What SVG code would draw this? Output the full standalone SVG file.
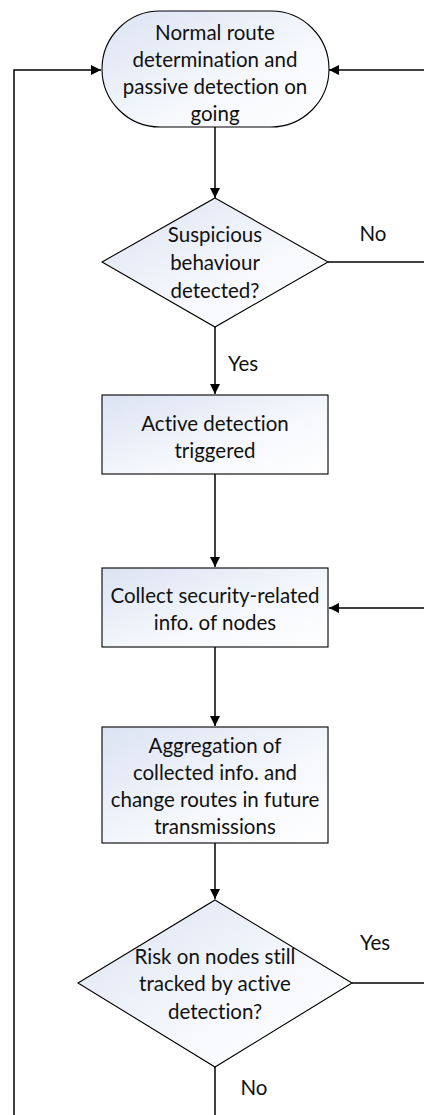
<svg xmlns="http://www.w3.org/2000/svg" width="424" height="1115" viewBox="0 0 424 1115">
  <style>
    .shape { stroke: #000; stroke-width: 1.1; fill: url(#fillGrad); }
    .edge { fill: none; stroke: #000; stroke-width: 1.5; }
    .label { font-family: Lato, "Liberation Sans", sans-serif; font-size: 20.5px; fill: #111; text-anchor: middle; dominant-baseline: central; font-variant-ligatures: none; }
  </style>
  <defs>
    <linearGradient id="fillGrad" x1="0" y1="0" x2="1" y2="1">
      <stop offset="0" stop-color="#dbe3f3"/>
      <stop offset="0.6" stop-color="#f6f8fc"/>
      <stop offset="1" stop-color="#ffffff"/>
    </linearGradient>
    <marker id="arrow" viewBox="0 0 10 10" refX="10" refY="5" markerWidth="10" markerHeight="10" markerUnits="userSpaceOnUse" orient="auto">
      <path d="M0,0 L10,5 L0,10 Z" fill="#000"/>
    </marker>
  </defs>

  <!-- connectors -->
  <g id="connectors">
    <line class="edge" x1="215" y1="127" x2="215" y2="198" marker-end="url(#arrow)"/>
    <line class="edge" x1="215" y1="326" x2="215" y2="394" marker-end="url(#arrow)"/>
    <line class="edge" x1="328" y1="262" x2="424" y2="262"/>
    <line class="edge" x1="424" y1="70" x2="329" y2="70" marker-end="url(#arrow)"/>
    <line class="edge" x1="215" y1="474" x2="215" y2="567" marker-end="url(#arrow)"/>
    <line class="edge" x1="424" y1="608" x2="329" y2="608" marker-end="url(#arrow)"/>
    <line class="edge" x1="215" y1="647" x2="215" y2="726" marker-end="url(#arrow)"/>
    <line class="edge" x1="215" y1="843" x2="215" y2="899" marker-end="url(#arrow)"/>
    <line class="edge" x1="352" y1="983" x2="424" y2="983"/>
    <line class="edge" x1="215" y1="1067" x2="215" y2="1115"/>
    <polyline class="edge" points="14,1115 14,70 101,70" marker-end="url(#arrow)"/>
    <text class="label" x="373" y="233">No</text>
    <text class="label" x="243" y="363">Yes</text>
    <text class="label" x="375" y="942">Yes</text>
    <text class="label" x="254" y="1087">No</text>
  </g>

  <g id="start">
    <rect class="shape" x="102" y="11" width="227" height="116" rx="58" ry="58"/>
    <text class="label" x="215" y="32">Normal route</text>
    <text class="label" x="215" y="59">determination and</text>
    <text class="label" x="215" y="86">passive detection on</text>
    <text class="label" x="215" y="113">going</text>
  </g>

  <g id="suspicious">
    <polygon class="shape" points="215,198 328,262 215,327 102,262"/>
    <text class="label" x="215" y="234">Suspicious</text>
    <text class="label" x="215" y="262">behaviour</text>
    <text class="label" x="215" y="290">detected?</text>
  </g>

  <g id="active">
    <rect class="shape" x="102" y="395" width="226" height="79"/>
    <text class="label" x="215" y="423">Active detection</text>
    <text class="label" x="215" y="450">triggered</text>
  </g>

  <g id="collect">
    <rect class="shape" x="102" y="568" width="226" height="79"/>
    <text class="label" x="215" y="595">Collect security-related</text>
    <text class="label" x="215" y="622">info. of nodes</text>
  </g>

  <g id="aggregate">
    <rect class="shape" x="102" y="727" width="226" height="116"/>
    <text class="label" x="215" y="745">Aggregation of</text>
    <text class="label" x="215" y="772">collected info. and</text>
    <text class="label" x="215" y="799">change routes in future</text>
    <text class="label" x="215" y="826">transmissions</text>
  </g>

  <g id="risk">
    <polygon class="shape" points="215,900 352,983 215,1067 78,983"/>
    <text class="label" x="215" y="956">Risk on nodes still</text>
    <text class="label" x="215" y="983">tracked by active</text>
    <text class="label" x="215" y="1011">detection?</text>
  </g>
</svg>
